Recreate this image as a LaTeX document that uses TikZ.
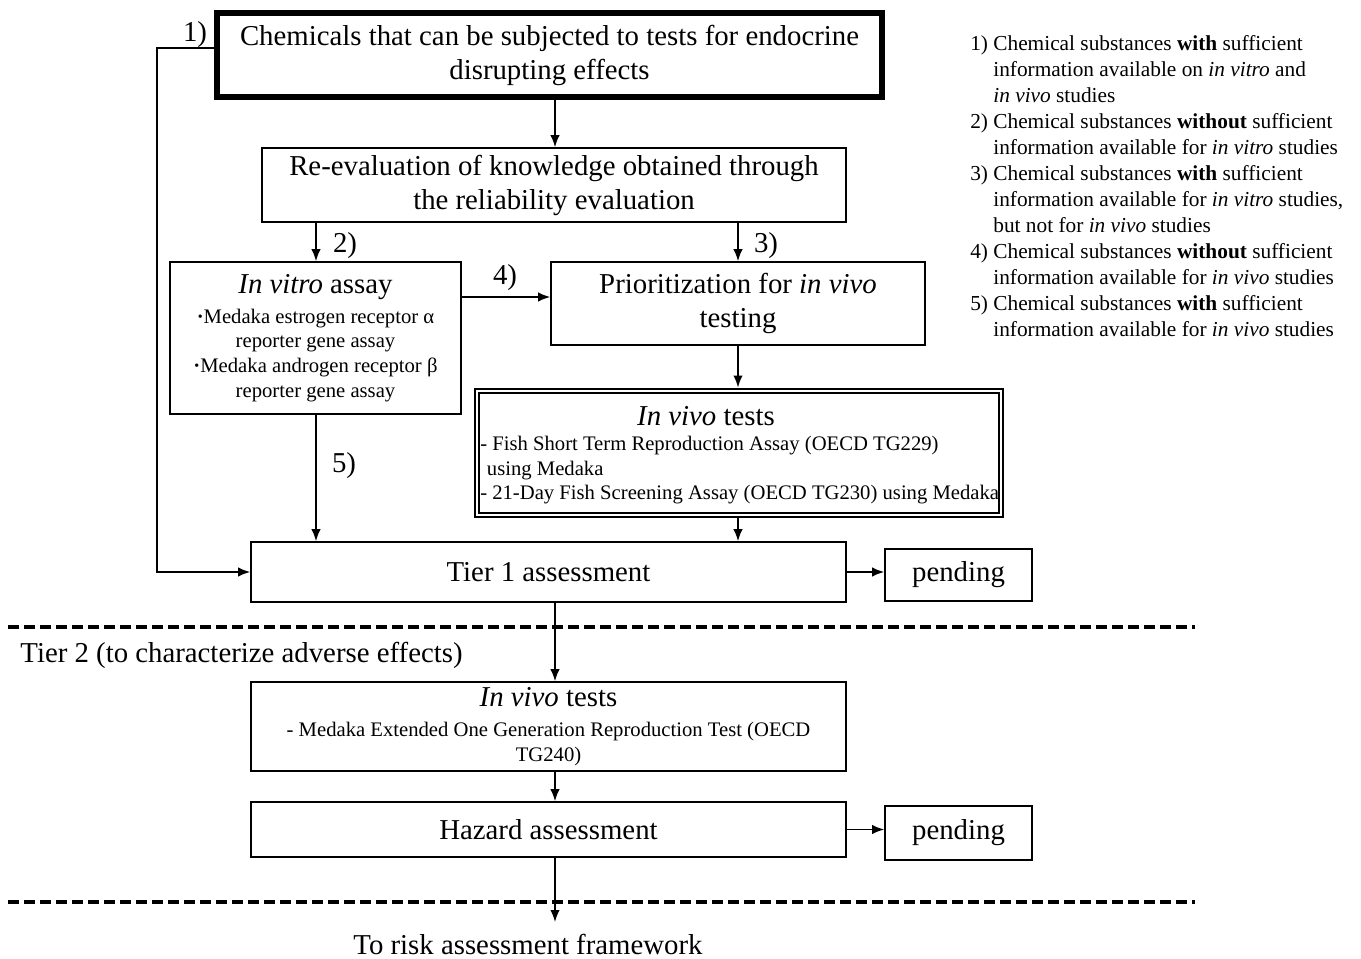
\documentclass[tikz,border=0pt]{standalone}
\usepackage{fontspec}
\setmainfont{Liberation Serif}
\usetikzlibrary{arrows.meta}
\usetikzlibrary{fit}
\tikzstyle{box}=[draw=black, line width=1.2pt, inner sep=0pt, align=center]
\tikzstyle{flow}=[line width=1.1pt, -{Latex[length=9pt,width=7pt]}]
\tikzstyle{tierline}=[dash pattern=on 8.5pt off 3.5pt, line width=2.8pt]
\tikzstyle{tag}=[inner sep=0pt]
\newcommand{\bigtext}{\fontsize{21.6}{25.5}\selectfont}
\newcommand{\smalltext}{\fontsize{15.5}{18.4}\selectfont}
\newcommand{\notetext}{\fontsize{16}{19.5}\selectfont}
\begin{document}
\begin{tikzpicture}[x=0.75pt, y=-0.75pt, font=\bigtext]
\useasboundingbox (0,0) rectangle (1361,959);
\coordinate (xl) at (157,300);
\coordinate (xm) at (555,0);
\coordinate (x2) at (316,0);
\coordinate (x3) at (738,0);
\coordinate (y1) at (0,48);
\coordinate (y4) at (0,297);
\coordinate (riskend) at (555,922);
\node[box, line width=4.5pt, minimum width=498.75pt, minimum height=63pt] (chem) at (549.5,55) {Chemicals that can be subjected to tests for endocrine\\disrupting effects};
\node[box, minimum width=438pt, minimum height=55.5pt] (reeval) at (554,185) {Re-evaluation of knowledge obtained through\\the reliability evaluation};
\node[box, font=\smalltext, minimum width=218.25pt, minimum height=114pt] (vitro) at (315.5,338) {{\bigtext\textit{In vitro} assay}\\[4pt]\textbf{·}Medaka estrogen receptor α\\reporter gene assay\\\textbf{·}Medaka androgen receptor β\\reporter gene assay};
\node[box, minimum width=280.5pt, minimum height=62.25pt] (prio) at (738,303.5) {Prioritization for \textit{in vivo}\\testing};
\node[box, minimum width=390pt, minimum height=90pt] (ivt) at (739,453) {};
\node[draw=black, line width=2.2pt, inner sep=2.4pt, fit=(ivt)] (ivto) {};
\node[tag] (ivttitle) at (706,416) {\textit{In vivo} tests};
\node[tag, anchor=west, align=left, font=\smalltext] (ivtbody) at (480,470.5) {- Fish Short Term Reproduction Assay (OECD TG229)\\\hspace*{5pt}using Medaka\\- 21-Day Fish Screening Assay (OECD TG230) using Medaka};
\node[box, minimum width=446.25pt, minimum height=45pt] (tier1) at (548.5,572) {Tier 1 assessment};
\node[box, minimum width=110.25pt, minimum height=39pt] (pend1) at (958.5,575) {pending};
\node[box, font=\smalltext, minimum width=446.25pt, minimum height=66.75pt] (ivv2) at (548.5,726.5) {{\bigtext\textit{In vivo} tests}\\[4pt]- Medaka Extended One Generation Reproduction Test (OECD\\TG240)};
\node[box, minimum width=446.25pt, minimum height=41.25pt] (haz) at (548.5,829.5) {Hazard assessment};
\node[box, minimum width=110.25pt, minimum height=40.5pt] (pend2) at (958.5,833) {pending};
\node[tag] (tier2) at (241.5,655) {Tier 2 (to characterize adverse effects)};
\node[tag] (risk) at (528,944) {To risk assessment framework};
\node[tag] (lab1) at (195,35) {1)};
\node[tag] (lab2) at (345,246) {2)};
\node[tag] (lab3) at (766,246) {3)};
\node[tag] (lab4) at (505,278) {4)};
\node[tag] (lab5) at (344,466) {5)};
\node[tag, anchor=north west, font=\notetext] (notes) at (970,32) {\begin{tabular}{@{}l@{ }l@{}}
1) & Chemical substances \textbf{with} sufficient\\
 & information available on \textit{in vitro} and\\
 & \textit{in vivo} studies\\
2) & Chemical substances \textbf{without} sufficient\\
 & information available for \textit{in vitro} studies\\
3) & Chemical substances \textbf{with} sufficient\\
 & information available for \textit{in vitro} studies,\\
 & but not for \textit{in vivo} studies\\
4) & Chemical substances \textbf{without} sufficient\\
 & information available for \textit{in vivo} studies\\
5) & Chemical substances \textbf{with} sufficient\\
 & information available for \textit{in vivo} studies
\end{tabular}};
\draw[flow] (chem.south -| xm) -- (reeval.north -| xm);
\draw[flow] (chem.west |- y1) -| (xl) |- (tier1.west);
\draw[flow] (reeval.south -| x2) -- (vitro.north -| x2);
\draw[flow] (reeval.south -| x3) -- (prio.north -| x3);
\draw[flow] (vitro.east |- y4) -- (prio.west |- y4);
\draw[flow] (prio.south -| x3) -- (ivto.north -| x3);
\draw[flow] (vitro.south -| x2) -- (tier1.north -| x2);
\draw[flow] (ivto.south -| x3) -- (tier1.north -| x3);
\draw[flow] (tier1.east) -- (tier1.east -| pend1.west);
\draw[flow] (tier1.south -| xm) -- (ivv2.north -| xm);
\draw[flow] (ivv2.south -| xm) -- (haz.north -| xm);
\draw[flow] (haz.east) -- (haz.east -| pend2.west);
\draw[flow] (haz.south -| xm) -- (riskend);
\draw[tierline] (8,627) -- (1195,627);
\draw[tierline] (8,902) -- (1195,902);
\end{tikzpicture}
\end{document}
